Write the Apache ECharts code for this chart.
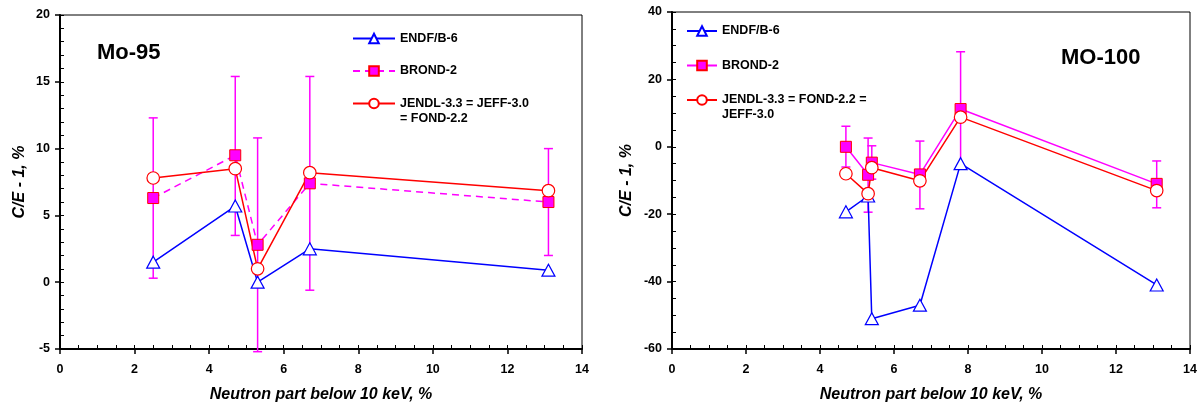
<!DOCTYPE html>
<html>
<head>
<meta charset="utf-8">
<script src="https://cdn.jsdelivr.net/npm/echarts@6/dist/echarts.min.js"></script>
<style>html,body{margin:0;padding:0;background:#fff}#c{width:1204px;height:408px}</style>
</head>
<body>
<div id="c"></div>
<script>
// ---- Mo-95 data ----
const x95 = [2.5, 4.7, 5.3, 6.7, 13.1];
const endf95 = [1.5, 5.7, 0.0, 2.5, 0.9];
const brond95 = [6.3, 9.5, 2.8, 7.4, 6.0];
const jendl95 = [7.8, 8.5, 1.0, 8.2, 6.85];
const errLow95 = [0.3, 3.5, -5.2, -0.6, 2.0];
const errHigh95 = [12.3, 15.4, 10.8, 15.4, 10.0];

// ---- Mo-100 data ----
const x100 = [4.7, 5.3, 5.4, 6.7, 7.8, 13.1];
const endf100 = [-19.3, -14.6, -51.0, -47.0, -5.0, -41.0];
const brond100 = [0.0, -8.3, -4.7, -8.2, 11.2, -11.0];
const jendl100 = [-8.0, -13.9, -6.2, -10.1, 8.8, -13.0];
const errLow100 = [-6.0, -19.4, -9.6, -18.4, -5.8, -18.1];
const errHigh100 = [6.1, 2.6, 0.3, 1.7, 28.2, -4.2];

const xTicks = [0, 2, 4, 6, 8, 10, 12, 14];
const yTicks95 = [-5, 0, 5, 10, 15, 20];
const yTicks100 = [-60, -40, -20, 0, 20, 40];

const FONT = '"Liberation Sans", Arial, sans-serif';
const BLUE = '#0000FF', MAG = '#FF00FF', RED = '#FF0000';

const zip = (xs, ys) => xs.map((x, i) => [x, ys[i]]);
const zip3 = (xs, a, b) => xs.map((x, i) => [x, a[i], b[i]]);

const nameStyle = { color: '#000', fontFamily: FONT, fontWeight: 'bold', fontStyle: 'italic', fontSize: 16 };

function mainX(grid) {
  return {
    gridIndex: grid, type: 'value', min: xTicks[0], max: xTicks[xTicks.length - 1], interval: 2,
    position: 'bottom',
    axisLine: { show: true, onZero: false, lineStyle: { color: '#000', width: 2 } },
    axisTick: { show: true, inside: false, length: 5, lineStyle: { color: '#000', width: 1.5 } },
    axisLabel: { color: '#000', fontFamily: FONT, fontWeight: 'bold', fontSize: 12.5, margin: 14 },
    splitLine: { show: false },
    name: 'Neutron part below 10 keV, %', nameLocation: 'middle', nameGap: 38,
    nameTextStyle: nameStyle
  };
}
function minorX(grid) {
  return {
    gridIndex: grid, type: 'value', min: 0, max: 14, interval: 0.5, position: 'bottom',
    axisLine: { show: false, onZero: false },
    axisTick: { show: true, inside: true, length: 4, lineStyle: { color: '#000', width: 1 } },
    axisLabel: { show: false }, splitLine: { show: false }
  };
}
function mainY(grid, ticks, gap) {
  return {
    gridIndex: grid, type: 'value', min: ticks[0], max: ticks[ticks.length - 1],
    interval: ticks[1] - ticks[0], position: 'left',
    axisLine: { show: true, onZero: false, lineStyle: { color: '#000', width: 2 } },
    axisTick: { show: true, inside: false, length: 5, lineStyle: { color: '#000', width: 1.5 } },
    axisLabel: { color: '#000', fontFamily: FONT, fontWeight: 'bold', fontSize: 12.5, margin: 10 },
    splitLine: { show: false },
    name: 'C/E - 1, %', nameLocation: 'middle', nameGap: gap,
    nameTextStyle: nameStyle
  };
}
function minorY(grid, min, max, step) {
  return {
    gridIndex: grid, type: 'value', min: min, max: max, interval: step, position: 'left',
    axisLine: { show: false, onZero: false },
    axisTick: { show: true, inside: true, length: 4, lineStyle: { color: '#000', width: 1 } },
    axisLabel: { show: false }, splitLine: { show: false }
  };
}

function errRender(params, api) {
  const x = api.value(0), lo = api.value(1), hi = api.value(2);
  const p1 = api.coord([x, lo]), p2 = api.coord([x, hi]);
  const w = 4.5;
  const st = { stroke: MAG, lineWidth: 1.5 };
  return {
    type: 'group', children: [
      { type: 'line', shape: { x1: p1[0], y1: p1[1], x2: p2[0], y2: p2[1] }, style: st },
      { type: 'line', shape: { x1: p1[0] - w, y1: p1[1], x2: p1[0] + w, y2: p1[1] }, style: st },
      { type: 'line', shape: { x1: p2[0] - w, y1: p2[1], x2: p2[0] + w, y2: p2[1] }, style: st }
    ]
  };
}

function lineSeries(name, data, xi, yi, kind, dashed) {
  const s = {
    name: name, type: 'line', xAxisIndex: xi, yAxisIndex: yi, data: data, z: 3,
    clip: false, animation: false
  };
  if (kind === 'tri') {
    Object.assign(s, { symbol: 'triangle', symbolSize: [13, 12],
      lineStyle: { color: BLUE, width: 1.5 },
      itemStyle: { color: '#fff', borderColor: BLUE, borderWidth: 1.2 } });
  } else if (kind === 'sq') {
    Object.assign(s, { symbol: 'rect', symbolSize: 11,
      lineStyle: { color: MAG, width: 1.5, type: dashed ? [7, 5] : 'solid' },
      itemStyle: { color: MAG, borderColor: RED, borderWidth: 1 } });
  } else {
    Object.assign(s, { symbol: 'circle', symbolSize: 12.5,
      lineStyle: { color: RED, width: 1.5 },
      itemStyle: { color: '#fff', borderColor: RED, borderWidth: 1.2 } });
  }
  return s;
}

const N1 = 'JENDL-3.3 = JEFF-3.0\n= FOND-2.2';
const N2 = 'JENDL-3.3 = FOND-2.2 =\nJEFF-3.0';
const SUF = ' \u200b';

const legendText = { fontFamily: FONT, fontWeight: 'bold', fontSize: 12.5, color: '#000', lineHeight: 15 };

// one legend per row; two-line names get an empty first line so the icon sits beside line 1
function legendRow(name, left, iconY, width) {
  const multi = name.indexOf('\n') >= 0;
  const half = multi ? 22.5 : 7.5;
  return {
    orient: 'vertical', left: left, top: iconY - half - 5, itemWidth: width, itemHeight: 12,
    selectedMode: false, data: [name], textStyle: legendText,
    formatter: n => (multi ? '\n' : '') + n.replace(SUF, '')
  };
}

const chart = echarts.init(document.getElementById('c'), null, { renderer: 'canvas' });
chart.setOption({
  animation: false,
  backgroundColor: '#fff',
  title: [
    { text: 'Mo-95', left: 92, top: 37, textStyle: { fontFamily: FONT, fontWeight: 'bold', fontSize: 22, color: '#000' } },
    { text: 'MO-100', left: 1056, top: 42, textStyle: { fontFamily: FONT, fontWeight: 'bold', fontSize: 22, color: '#000' } }
  ],
  legend: [
    legendRow('ENDF/B-6', 347, 38.5, 42),
    legendRow('BROND-2', 347, 71, 42),
    legendRow(N1, 347, 103.5, 42),
    legendRow('ENDF/B-6' + SUF, 681, 31, 30),
    legendRow('BROND-2' + SUF, 681, 65.5, 30),
    legendRow(N2, 681, 100, 30)
  ],
  grid: [
    { left: 60, top: 15, right: 622, bottom: 59, show: true, borderColor: '#000', borderWidth: 1, backgroundColor: 'transparent' },
    { left: 672, top: 12, right: 14, bottom: 58, show: true, borderColor: '#000', borderWidth: 1, backgroundColor: 'transparent' }
  ],
  xAxis: [mainX(0), minorX(0), mainX(1), minorX(1)],
  yAxis: [mainY(0, yTicks95, 32), minorY(0, -5, 20, 1), mainY(1, yTicks100, 37), minorY(1, -60, 40, 5)],
  series: [
    { type: 'custom', xAxisIndex: 0, yAxisIndex: 0, z: 1, renderItem: errRender,
      data: zip3(x95, errLow95, errHigh95), encode: { x: 0, y: [1, 2] }, clip: false },
    lineSeries('ENDF/B-6', zip(x95, endf95), 0, 0, 'tri'),
    lineSeries('BROND-2', zip(x95, brond95), 0, 0, 'sq', true),
    lineSeries(N1, zip(x95, jendl95), 0, 0, 'circ'),
    { type: 'custom', xAxisIndex: 2, yAxisIndex: 2, z: 1, renderItem: errRender,
      data: zip3(x100, errLow100, errHigh100), encode: { x: 0, y: [1, 2] }, clip: false },
    lineSeries('ENDF/B-6' + SUF, zip(x100, endf100), 2, 2, 'tri'),
    lineSeries('BROND-2' + SUF, zip(x100, brond100), 2, 2, 'sq', false),
    lineSeries(N2, zip(x100, jendl100), 2, 2, 'circ')
  ]
});
</script>
</body>
</html>
